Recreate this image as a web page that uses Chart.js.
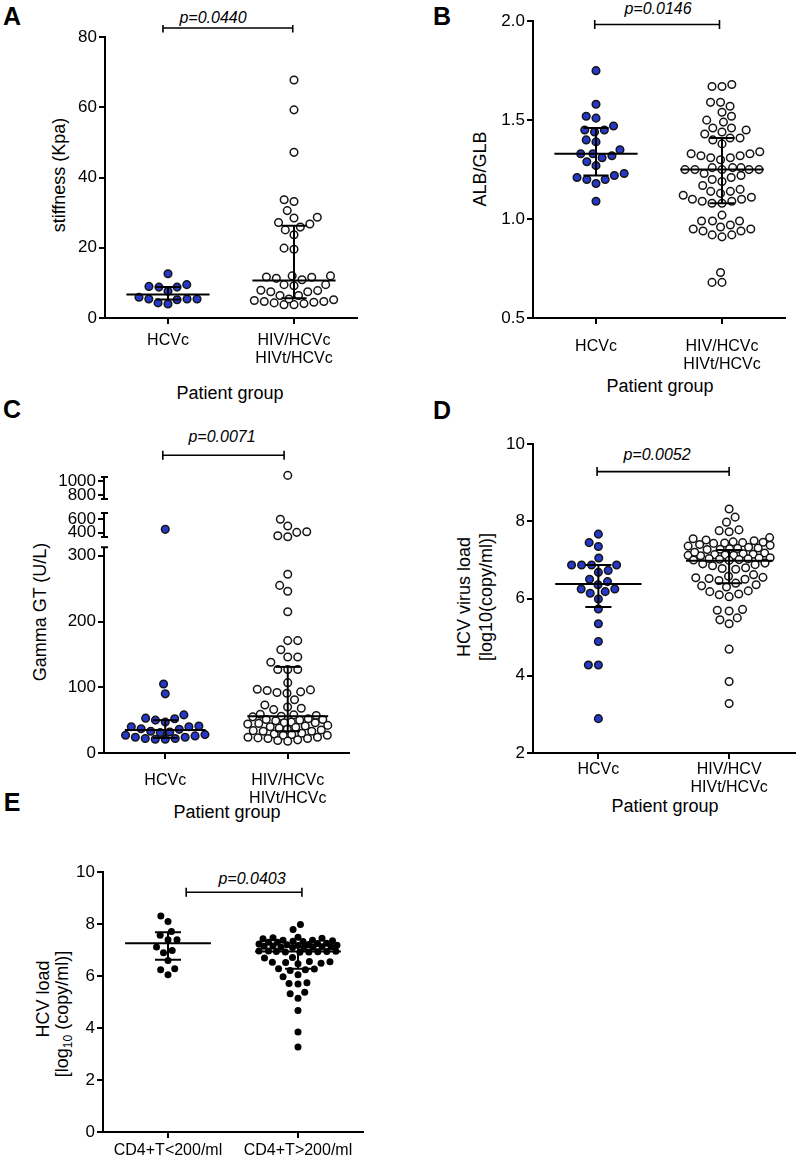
<!DOCTYPE html>
<html>
<head>
<meta charset="utf-8">
<script src="https://cdn.jsdelivr.net/npm/chart.js@4.4.1/dist/chart.umd.min.js"></script>
<style>
body{margin:0;background:#fff;font-family:"Liberation Sans",Arial,sans-serif;}
#page{position:relative;width:800px;height:1156px;overflow:hidden;}
canvas{position:absolute;}
.t{position:absolute;white-space:nowrap;color:#000;transform:translate(-50%,-50%);}
.letter{font-weight:bold;font-size:25px;}
.ytitle{font-size:18px;line-height:22px;text-align:center;transform:translate(-50%,-50%) rotate(-90deg);}
.xtitle{font-size:18px;}
.pval{font-size:16px;font-style:italic;}
</style>
</head>
<body>
<div id="page"></div>
<script>
const FONT = '"Liberation Sans", Arial, sans-serif';

// A: liver stiffness (Kpa)
const groupsA = ['HCVc', ['HIV/HCVc', 'HIVt/HCVc']];
const stiffHCVc = [12.6, 9.0, 8.8, 8.8, 9.5, 7.6, 5.4, 5.2, 5.4, 5.4, 5.9, 4.0, 4.3];
const stiffCo = [67.8, 59.3, 47.2, 33.7, 33.2, 30.6, 28.7, 28.5, 27.2, 26.8, 25.9, 25.1, 23.7, 19.9, 19.6,
  12.0, 11.7, 11.3, 10.9, 11.6, 12.0, 9.5, 9.2, 9.5, 7.9, 7.5, 7.5, 7.8,
  6.4, 6.4, 5.2, 4.7, 4.5, 4.1, 3.8, 3.8, 4.3, 4.7, 5.0, 5.4];
const stiffMedian = [6.7, 10.7];
const stiffQ1 = [5.3, 5.6];
const stiffQ3 = [8.8, 26.3];
const stiffTicks = [0, 20, 40, 60, 80];

// B: ALB/GLB ratio
const groupsB = ['HCVc', ['HIV/HCVc', 'HIVt/HCVc']];
const albHCVc = [1.75, 1.58, 1.52, 1.51, 1.47, 1.45, 1.45, 1.44, 1.39, 1.40, 1.35, 1.33, 1.33, 1.32,
  1.31, 1.29, 1.27, 1.23, 1.22, 1.21, 1.20, 1.20, 1.18, 1.09];
const albCo = [1.68, 1.67, 1.67, 1.59, 1.57, 1.59, 1.49, 1.52, 1.50, 1.54, 1.46, 1.45, 1.44, 1.46,
  1.41, 1.40, 1.38, 1.41, 1.43, 1.31, 1.33, 1.32, 1.33, 1.34, 1.30, 1.31, 1.32,
  1.25, 1.25, 1.25, 1.26, 1.26, 1.26, 1.25, 1.25, 1.22, 1.20, 1.19, 1.23, 1.21,
  1.17, 1.14, 1.14, 1.15, 1.13, 1.11, 1.12, 1.10, 1.09, 1.08, 1.08, 1.09, 1.10,
  0.99, 0.99, 0.97, 0.99, 1.02, 0.95, 0.94, 0.92, 0.91, 0.92, 0.94, 0.95, 0.96, 0.73, 0.68, 0.68];
const albMedian = [1.33, 1.25];
const albQ1 = [1.22, 1.08];
const albQ3 = [1.46, 1.41];
const albTicks = [0.5, 1.0, 1.5, 2.0];

// C: Gamma GT (U/L), broken axis
const groupsC = ['HCVc', ['HIV/HCVc', 'HIVt/HCVc']];
const ggtHCVc = [450, 105, 90, 58, 52, 47, 50, 53, 40, 40, 41, 37, 36, 33, 32, 31, 28, 26, 24, 22, 21, 21, 22, 24, 27];
const ggtCo = [1080, 600, 500, 415, 405, 355, 340, 272, 255, 246, 215, 171, 171, 157, 146, 146, 138,
  127, 127, 127, 107, 97, 95, 92, 91, 93, 96, 81, 73, 70, 68, 66,
  57, 56, 58, 55, 59, 51, 50, 52, 49, 51, 46, 45, 47, 44, 46, 40, 41, 39, 42, 38,
  34, 35, 33, 36, 33, 28, 29, 27, 30, 27, 23, 22, 24, 22, 24, 19, 18, 20];
const ggtMedian = [35, 56];
const ggtQ1 = [23, 33];
const ggtQ3 = [50, 131];
const ggtTicksLow = [0, 100, 200, 300];
const ggtTicksMid = [400, 600];
const ggtTicksTop = [800, 1000];

// D: HCV virus load
const groupsD = ['HCVc', ['HIV/HCV', 'HIVt/HCVc']];
const loadHCVc = [7.67, 7.45, 7.35, 7.05, 6.87, 6.87, 6.87, 6.87, 6.73, 6.68, 6.50, 6.44, 6.36, 6.25,
  6.25, 6.14, 6.18, 5.99, 5.73, 5.35, 4.89, 4.28, 4.28, 2.89];
const loadCo = [8.32, 8.11, 7.98, 7.76, 7.78, 7.73, 7.58, 7.52, 7.47, 7.45, 7.43, 7.44, 7.46, 7.50, 7.55,
  7.38, 7.33, 7.30, 7.28, 7.27, 7.29, 7.31, 7.36, 7.40, 7.18, 7.15, 7.13, 7.12, 7.11, 7.12, 7.14, 7.16, 7.20,
  7.05, 7.03, 7.02, 7.00, 6.99, 7.01, 7.04, 7.06, 6.92, 6.88, 6.90, 6.85, 6.78, 6.80, 6.76,
  6.55, 6.52, 6.62, 6.58, 6.50, 6.47, 6.54, 6.33, 6.30, 6.36, 6.40, 6.18, 6.10, 6.05, 6.12, 6.20,
  5.72, 5.68, 5.70, 5.45, 5.35, 5.50, 4.69, 3.85, 3.28];
const loadMedian = [6.38, 6.98];
const loadQ1 = [5.78, 6.40];
const loadQ3 = [6.87, 7.26];
const loadTicks = [2, 4, 6, 8, 10];

// E: HCV load by CD4+ T count
const groupsE = ['CD4+T<200/ml', 'CD4+T>200/ml'];
const cd4Low = [8.31, 8.10, 7.72, 7.57, 7.40, 7.40, 7.12, 6.99, 6.90, 6.60, 6.28, 6.25, 6.05];
const cd4High = [7.99, 7.79, 7.50, 7.48, 7.46, 7.44, 7.38, 7.36, 7.33, 7.30, 7.27, 7.24, 7.21, 7.18, 7.15,
  7.13, 7.11, 7.10, 7.10, 7.11, 7.13, 7.16, 7.19, 7.22, 7.26, 7.30, 7.34, 7.38,
  6.97, 6.95, 6.93, 6.92, 6.94, 6.96, 6.95, 6.93, 6.97, 6.72, 6.70, 6.55, 6.52, 6.50, 6.48, 6.53, 6.56,
  6.27, 6.22, 6.25, 6.28, 6.05, 5.98, 5.72, 5.70, 5.74, 5.38, 5.32, 5.15, 4.68, 3.85, 3.27];
const cd4Median = [7.27, 6.95];
const cd4Q1 = [6.63, 6.28];
const cd4Q3 = [7.69, 7.12];
const cd4Ticks = [0, 2, 4, 6, 8, 10];

const pValues = ['p=0.0440', 'p=0.0146', 'p=0.0071', 'p=0.0052', 'p=0.0403'];

const BLUE = '#2638c8';
const dotBlue = {bg: BLUE, border: '#151515', r: 3.8, bw: 1.5};
const dotOpen = {bg: '#ffffff', border: '#151515', r: 3.8, bw: 1.5};
const dotBlack = {bg: '#000000', border: '#000000', r: 3.5, bw: 0};

const panels = [
  {area: {l: 105, t: 37, r: 357, b: 318}, m: {l: 60, t: 12, r: 12, b: 60}, xPad: 8,
   groups: groupsA, series: [stiffHCVc, stiffCo], med: stiffMedian, q1: stiffQ1, q3: stiffQ3,
   dots: [dotBlue, dotOpen], dot: 10, maxW: 40, fmt: v => v,
   yAxes: [{id: 'y', min: 0, max: 80, ticks: stiffTicks}],
   bracket: {x0: -0.04, x1: 0.99, y: 82.6}},
  {area: {l: 533, t: 21, r: 785, b: 318}, m: {l: 60, t: 12, r: 12, b: 60}, xPad: 14,
   groups: groupsB, series: [albHCVc, albCo], med: albMedian, q1: albQ1, q3: albQ3,
   dots: [dotBlue, dotOpen], dot: 10, maxW: 42, fmt: v => v.toFixed(1),
   yAxes: [{id: 'y', min: 0.5, max: 2.0, ticks: albTicks}],
   bracket: {x0: -0.01, x1: 0.98, y: 1.983}},
  {area: {l: 104, t: 470, r: 349, b: 753}, m: {l: 60, t: 30, r: 12, b: 50}, xPad: 13,
   groups: groupsC, series: [ggtHCVc, ggtCo], med: ggtMedian, q1: ggtQ1, q3: ggtQ3,
   dots: [dotBlue, dotOpen], dot: 10, maxW: 40, fmt: v => v, stacked: true,
   yAxes: [
     {id: 'y', min: 0, max: 321, ticks: ggtTicksLow, weight: 211, seg: [0, 313]},
     {id: 'y2', min: 261, max: 798, ticks: ggtTicksMid, weight: 36, seg: [336, 694]},
     {id: 'y3', min: 643, max: 1157, ticks: ggtTicksTop, weight: 36, seg: [743, 1057]}],
   bracket: {x0: -0.02, x1: 0.97, y: 453}},
  {area: {l: 533, t: 444, r: 795, b: 753}, m: {l: 60, t: 12, r: 5, b: 50}, xPad: 2,
   groups: groupsD, series: [loadHCVc, loadCo], med: loadMedian, q1: loadQ1, q3: loadQ3,
   dots: [dotBlue, dotOpen], dot: 10, maxW: 41, fmt: v => v,
   yAxes: [{id: 'y', min: 2, max: 10, ticks: loadTicks}],
   bracket: {x0: -0.01, x1: 1.0, y: 9.29}},
  {area: {l: 103, t: 872, r: 363, b: 1132}, m: {l: 60, t: 12, r: 12, b: 24}, xPad: 4,
   groups: groupsE, series: [cd4Low, cd4High], med: cd4Median, q1: cd4Q1, q3: cd4Q3,
   dots: [dotBlack, dotBlack], dot: 9, maxW: 39, fmt: v => v,
   yAxes: [{id: 'y', min: 0, max: 10, ticks: cd4Ticks}],
   bracket: {x0: 0.14, x1: 1.03, y: 9.23}}
];

const texts = [
  ['letter', 'A', 12, 16], ['letter', 'B', 442, 16], ['letter', 'C', 12, 409], ['letter', 'D', 442, 410], ['letter', 'E', 12, 802],
  ['ytitle', 'stiffness (Kpa)', 59, 175], ['ytitle', 'ALB/GLB', 480, 169], ['ytitle', 'Gamma GT (U/L)', 40, 612],
  ['ytitle', 'HCV virus load<br>[log10(copy/ml)]', 475, 597],
  ['ytitle', 'HCV load', 43, 999], ['ytitle', '[log<sub style="font-size:12px">10</sub> (copy/ml)]', 65, 1014],
  ['xtitle', 'Patient group', 230, 393], ['xtitle', 'Patient group', 660, 386],
  ['xtitle', 'Patient group', 227, 812], ['xtitle', 'Patient group', 665, 806],
  ['pval', pValues[0], 213, 18], ['pval', pValues[1], 658, 9], ['pval', pValues[2], 222, 437],
  ['pval', pValues[3], 657, 455], ['pval', pValues[4], 252, 879]
];

const page = document.getElementById('page');
texts.forEach(([cls, html, x, y]) => {
  const d = document.createElement('div');
  d.className = 't ' + cls;
  d.innerHTML = html;
  d.style.left = x + 'px';
  d.style.top = y + 'px';
  page.appendChild(d);
});

// significance bracket above the two groups
const bracketPlugin = {
  id: 'bracket',
  afterDraw(chart, args, o) {
    const ctx = chart.ctx, xs = chart.scales.x, ys = chart.scales.y;
    const y = ys.getPixelForValue(o.y), x0 = xs.getPixelForValue(o.x0), x1 = xs.getPixelForValue(o.x1);
    ctx.save();
    ctx.strokeStyle = '#000';
    ctx.lineWidth = 1.6;
    ctx.beginPath();
    ctx.moveTo(x0, y); ctx.lineTo(x1, y);
    ctx.moveTo(x0, y - 4.5); ctx.lineTo(x0, y + 4.5);
    ctx.moveTo(x1, y - 4.5); ctx.lineTo(x1, y + 4.5);
    ctx.stroke();
    ctx.restore();
  }
};

// axis line pieces for the broken y axis
const brokenAxis = {
  id: 'brokenAxis',
  afterDraw(chart, args, o) {
    if (!o.segs) return;
    const ctx = chart.ctx, x = chart.chartArea.left;
    ctx.save();
    ctx.strokeStyle = '#000';
    ctx.lineWidth = 2;
    o.segs.forEach(s => {
      const sc = chart.scales[s.id];
      const y0 = sc.getPixelForValue(s.seg[0]), y1 = sc.getPixelForValue(s.seg[1]);
      ctx.beginPath();
      ctx.moveTo(x, y0 + (s.seg[0] === 0 ? 1 : 0)); ctx.lineTo(x, y1);
      if (s.seg[0] !== 0) { ctx.moveTo(x - 3, y0); ctx.lineTo(x + 4, y0); }
      ctx.moveTo(x - 3, y1); ctx.lineTo(x + 4, y1);
      ctx.stroke();
    });
    ctx.restore();
  }
};

// dot-plot layout: nearest free spot to the centre, crowded rows overlap inside maxW
function swarm(pys, d, maxW) {
  const idx = pys.map((py, i) => i).sort((a, b) => pys[b] - pys[a]);
  const placed = [];
  const out = new Array(pys.length).fill(0);
  idx.forEach(i => {
    const py = pys[i];
    const near = placed.filter(q => Math.abs(q.py - py) < d);
    const cands = [0];
    near.forEach(q => {
      const dx = Math.sqrt(d * d - (q.py - py) * (q.py - py));
      cands.push(q.px + dx, q.px - dx);
    });
    cands.sort((a, b) => Math.abs(a) - Math.abs(b) || a - b);
    let px = null;
    for (const c of cands) {
      if (Math.abs(c) > maxW) break;
      if (near.every(q => (q.px - c) ** 2 + (q.py - py) ** 2 >= d * d - 0.01)) { px = c; break; }
    }
    if (px === null) {
      let best = -1;
      for (let c = -maxW; c <= maxW; c += 0.5) {
        const md = Math.min(...near.map(q => (q.px - c) ** 2 + (q.py - py) ** 2));
        if (md > best + 0.01 || (Math.abs(md - best) <= 0.01 && Math.abs(c) < Math.abs(px))) { best = md; px = c; }
      }
    }
    placed.push({px, py});
    out[i] = px;
  });
  return out;
}

function axisFor(p, v) {
  if (!p.stacked) return 'y';
  let best = p.yAxes[0];
  p.yAxes.forEach(a => { if (v >= a.min && v <= a.max && (v >= a.seg[0] - 20)) best = a; });
  return best.id;
}

function makePanel(p) {
  const {area: a, m} = p;
  const W = a.r - a.l + m.l + m.r, H = a.b - a.t + m.t + m.b;
  const cv = document.createElement('canvas');
  cv.width = W; cv.height = H;
  cv.style.left = (a.l - m.l) + 'px';
  cv.style.top = (a.t - m.t) + 'px';
  cv.style.width = W + 'px';
  cv.style.height = H + 'px';
  page.appendChild(cv);

  const datasets = [];
  p.series.forEach((vals, g) => {
    const line = (x0, x1, y0, y1) => ({
      data: [{x: x0, y: y0}, {x: x1, y: y1}], showLine: true, pointRadius: 0,
      borderColor: '#000', borderWidth: 2, yAxisID: 'y', order: 0
    });
    datasets.push(line(g - 0.33, g + 0.33, p.med[g], p.med[g]));
    datasets.push(line(g - 0.1, g + 0.1, p.q3[g], p.q3[g]));
    datasets.push(line(g - 0.1, g + 0.1, p.q1[g], p.q1[g]));
    datasets.push(line(g, g, p.q1[g], p.q3[g]));
    const st = p.dots[g];
    p.yAxes.forEach(ax => {
      const pts = vals.filter(v => axisFor(p, v) === ax.id).map(v => ({x: g, y: v}));
      if (!pts.length) return;
      datasets.push({
        group: g, data: pts, yAxisID: ax.id, order: 1,
        pointRadius: st.r, pointBorderWidth: st.bw,
        pointBackgroundColor: st.bg, pointBorderColor: st.border
      });
    });
  });

  const scales = {
    x: {
      type: 'linear', position: 'bottom', min: -0.5, max: 1.5,
      afterBuildTicks: sc => { sc.ticks = [{value: 0}, {value: 1}]; },
      afterFit: sc => { sc.height = m.b; },
      border: {display: true, color: '#000', width: 2},
      grid: {drawOnChartArea: false, drawTicks: true, tickLength: 6, color: '#000', lineWidth: 2},
      ticks: {color: '#000', padding: p.xPad, maxRotation: 0, autoSkip: false,
        font: {family: FONT, size: 16, lineHeight: 1.1}, callback: v => p.groups[v]}
    }
  };
  p.yAxes.forEach(ax => {
    const s = {
      type: 'linear', position: 'left', min: ax.min, max: ax.max,
      afterBuildTicks: sc => { sc.ticks = ax.ticks.map(v => ({value: v})); },
      afterFit: sc => { sc.width = m.l; },
      border: {display: !p.stacked, color: '#000', width: 2},
      grid: {drawOnChartArea: false, drawTicks: true, tickLength: 6, color: '#000', lineWidth: 2},
      ticks: {color: '#000', padding: 2, autoSkip: false, font: {family: FONT, size: 17}, callback: v => p.fmt(v)}
    };
    if (p.stacked) { s.stack = 'ggt'; s.stackWeight = ax.weight; }
    scales[ax.id] = s;
  });

  const chart = new Chart(cv, {
    type: 'scatter',
    data: {datasets},
    options: {
      responsive: false, animation: false,
      layout: {padding: {left: 0, top: m.t, right: m.r, bottom: 0}},
      plugins: {
        legend: {display: false}, tooltip: {enabled: false},
        bracket: p.bracket,
        brokenAxis: {segs: p.stacked ? p.yAxes : null}
      },
      scales
    },
    plugins: [bracketPlugin, brokenAxis]
  });

  const xs = chart.scales.x;
  const unit = xs.getPixelForValue(1) - xs.getPixelForValue(0);
  p.series.forEach((vals, g) => {
    const pts = [];
    chart.data.datasets.filter(d => d.group === g).forEach(d => {
      d.data.forEach(pt => pts.push({pt, py: chart.scales[d.yAxisID].getPixelForValue(pt.y)}));
    });
    const offs = swarm(pts.map(q => q.py), p.dot, p.maxW);
    pts.forEach((q, i) => { q.pt.x = g + offs[i] / unit; });
  });
  chart.update('none');
}

panels.forEach(makePanel);
</script>
</body>
</html>
